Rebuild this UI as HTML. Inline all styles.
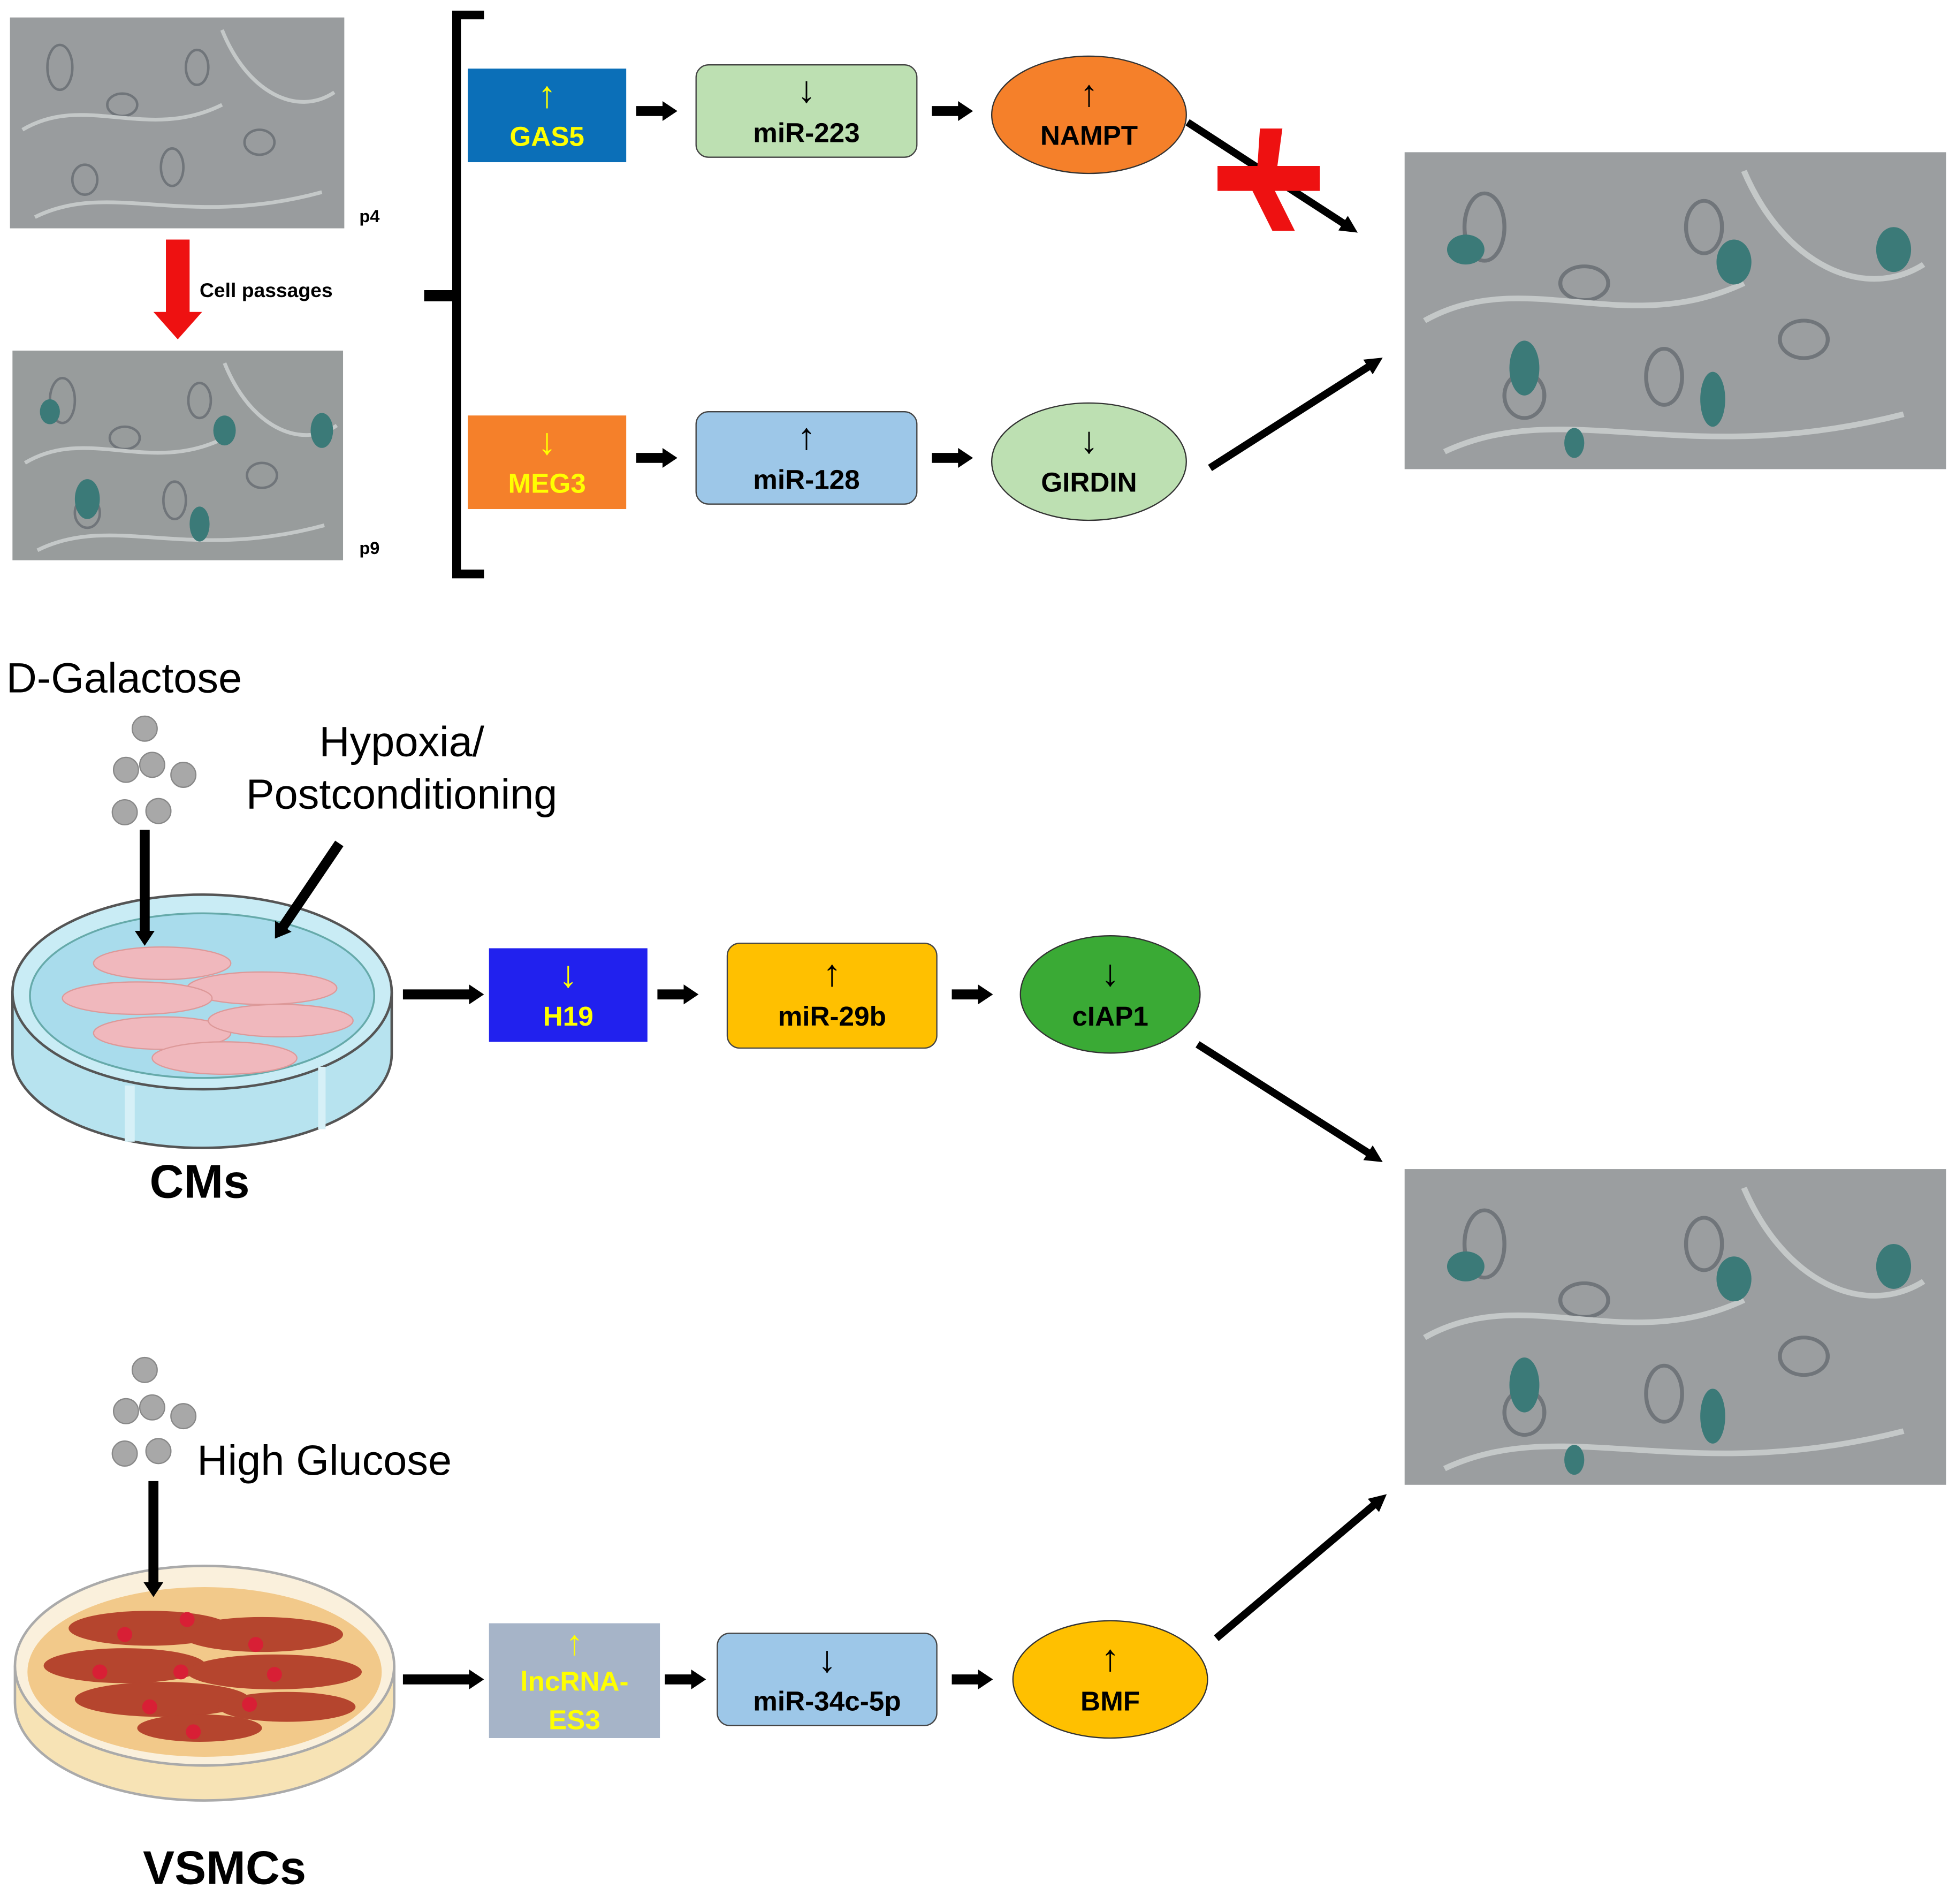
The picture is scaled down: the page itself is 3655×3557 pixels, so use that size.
<!DOCTYPE html>
<html><head><meta charset="utf-8">
<style>
html,body{margin:0;padding:0;background:#fff;}
svg{display:block;}
text{font-family:"Liberation Sans",Arial,sans-serif;}
</style></head>
<body>
<svg width="3655" height="3557" viewBox="0 0 1568 1526" preserveAspectRatio="none" xmlns="http://www.w3.org/2000/svg">
<defs>
<marker id="ah" markerWidth="12" markerHeight="16" refX="2" refY="8" orient="auto" markerUnits="userSpaceOnUse">
<path d="M0,0 L12,8 L0,16 z" fill="#000"/>
</marker>
<marker id="ad" markerWidth="14" markerHeight="14" refX="4" refY="7" orient="auto" markerUnits="userSpaceOnUse">
<path d="M0,0 L14,7 L0,14 z" fill="#000"/>
</marker>
<g id="cells">
<ellipse cx="40" cy="40" rx="10" ry="18" fill="none" stroke="#70757a" stroke-width="2"/>
<ellipse cx="90" cy="70" rx="12" ry="9" fill="none" stroke="#70757a" stroke-width="2"/>
<ellipse cx="150" cy="40" rx="9" ry="14" fill="none" stroke="#70757a" stroke-width="2"/>
<ellipse cx="200" cy="100" rx="12" ry="10" fill="none" stroke="#70757a" stroke-width="2"/>
<ellipse cx="60" cy="130" rx="10" ry="12" fill="none" stroke="#70757a" stroke-width="2"/>
<ellipse cx="130" cy="120" rx="9" ry="15" fill="none" stroke="#70757a" stroke-width="2"/>
<path d="M10,90 C60,60 110,100 170,70 M20,160 C80,130 140,170 250,140 M170,10 C190,60 230,80 260,60" stroke="#c4c8c8" stroke-width="3" fill="none"/>
</g>
</defs>

<!-- p4 -->
<rect x="8" y="14" width="268" height="169" fill="#999c9e"/>
<use href="#cells" x="8" y="14"/>
<text x="288" y="178" font-size="14" font-weight="bold">p4</text>
<rect x="133" y="192" width="19" height="60" fill="#ee1111"/>
<polygon points="123,250 162,250 142.5,272" fill="#ee1111"/>
<text x="160" y="238" font-size="16" font-weight="bold">Cell passages</text>
<!-- p9 -->
<rect x="10" y="281" width="265" height="168" fill="#989c9c"/>
<use href="#cells" x="10" y="281"/>
<ellipse cx="70" cy="400" rx="10" ry="16" fill="#3b7a78"/>
<ellipse cx="180" cy="345" rx="9" ry="12" fill="#3b7a78"/>
<ellipse cx="258" cy="345" rx="9" ry="14" fill="#3b7a78"/>
<ellipse cx="160" cy="420" rx="8" ry="14" fill="#3b7a78"/>
<ellipse cx="40" cy="330" rx="8" ry="10" fill="#3b7a78"/>
<text x="288" y="444" font-size="14" font-weight="bold">p9</text>

<path d="M388,12 L366,12 L366,460 L388,460" stroke="#000" stroke-width="7" fill="none"/>
<path d="M340,237 L366,237" stroke="#000" stroke-width="9"/>

<!-- top row -->
<rect x="375" y="55" width="127" height="75" fill="#0b6fb8"/>
<text x="438.5" y="86" font-size="30" fill="#ffff00" text-anchor="middle">↑</text>
<text x="438.5" y="117" font-size="22" font-weight="bold" fill="#ffff00" text-anchor="middle">GAS5</text>
<line x1="510" y1="89" x2="533" y2="89" stroke="#000" stroke-width="8" marker-end="url(#ah)"/>
<rect x="558" y="52" width="177" height="74" rx="10" fill="#bde0b2" stroke="#444" stroke-width="1"/>
<text x="646.5" y="82" font-size="30" text-anchor="middle">↓</text>
<text x="646.5" y="114" font-size="22" font-weight="bold" text-anchor="middle">miR-223</text>
<line x1="747" y1="89" x2="770" y2="89" stroke="#000" stroke-width="8" marker-end="url(#ah)"/>
<ellipse cx="873" cy="92" rx="78" ry="47" fill="#f5802a" stroke="#333" stroke-width="1"/>
<text x="873" y="85" font-size="30" text-anchor="middle">↑</text>
<text x="873" y="116" font-size="22" font-weight="bold" text-anchor="middle">NAMPT</text>
<line x1="952" y1="98" x2="1080" y2="181" stroke="#000" stroke-width="6" marker-end="url(#ad)"/>
<polygon points="1010,103 1028,103 1024,133 1058,133 1058,153 1022,153 1038,185 1020,185 1004,153 976,153 976,133 1008,133" fill="#ee1111"/>

<rect x="1126" y="122" width="434" height="254" fill="#9b9ea0"/>
<g transform="translate(1126 122) scale(1.6 1.5)"><use href="#cells"/></g>
<ellipse cx="1175" cy="200" rx="15" ry="12" fill="#3b7a78"/>
<ellipse cx="1390" cy="210" rx="14" ry="18" fill="#3b7a78"/>
<ellipse cx="1518" cy="200" rx="14" ry="18" fill="#3b7a78"/>
<ellipse cx="1222" cy="295" rx="12" ry="22" fill="#3b7a78"/>
<ellipse cx="1373" cy="320" rx="10" ry="22" fill="#3b7a78"/>
<ellipse cx="1262" cy="355" rx="8" ry="12" fill="#3b7a78"/>

<!-- second row -->
<rect x="375" y="333" width="127" height="75" fill="#f5802a"/>
<text x="438.5" y="364" font-size="30" fill="#ffff00" text-anchor="middle">↓</text>
<text x="438.5" y="395" font-size="22" font-weight="bold" fill="#ffff00" text-anchor="middle">MEG3</text>
<line x1="510" y1="367" x2="533" y2="367" stroke="#000" stroke-width="8" marker-end="url(#ah)"/>
<rect x="558" y="330" width="177" height="74" rx="10" fill="#9dc7e8" stroke="#444" stroke-width="1"/>
<text x="646.5" y="360" font-size="30" text-anchor="middle">↑</text>
<text x="646.5" y="392" font-size="22" font-weight="bold" text-anchor="middle">miR-128</text>
<line x1="747" y1="367" x2="770" y2="367" stroke="#000" stroke-width="8" marker-end="url(#ah)"/>
<ellipse cx="873" cy="370" rx="78" ry="47" fill="#bde0b2" stroke="#333" stroke-width="1"/>
<text x="873" y="363" font-size="30" text-anchor="middle">↓</text>
<text x="873" y="394" font-size="22" font-weight="bold" text-anchor="middle">GIRDIN</text>
<line x1="970" y1="375" x2="1100" y2="292" stroke="#000" stroke-width="6" marker-end="url(#ad)"/>

<text x="5" y="555" font-size="34">D-Galactose</text>
<g fill="#a8a8a8" stroke="#888" stroke-width="1">
<circle cx="116" cy="584" r="10"/><circle cx="101" cy="617" r="10"/><circle cx="122" cy="613" r="10"/><circle cx="147" cy="621" r="10"/><circle cx="100" cy="651" r="10"/><circle cx="127" cy="650" r="10"/>
</g>
<text x="322" y="606" font-size="34" text-anchor="middle">Hypoxia/</text>
<text x="322" y="648" font-size="34" text-anchor="middle">Postconditioning</text>

<!-- CMs dish -->
<path d="M10,795 L10,845 A152,75 0 0 0 314,845 L314,795" fill="#b7e3ef" stroke="#555" stroke-width="2"/>
<ellipse cx="162" cy="795" rx="152" ry="78" fill="#c9ecf5" stroke="#555" stroke-width="2"/>
<ellipse cx="162" cy="798" rx="138" ry="66" fill="#a9dcec" stroke="#6aa" stroke-width="1.5"/>
<g fill="#f0b8bd" stroke="#d99" stroke-width="1">
<ellipse cx="130" cy="772" rx="55" ry="13"/><ellipse cx="210" cy="792" rx="60" ry="13"/>
<ellipse cx="110" cy="800" rx="60" ry="13"/><ellipse cx="130" cy="828" rx="55" ry="13"/>
<ellipse cx="225" cy="818" rx="58" ry="13"/><ellipse cx="180" cy="848" rx="58" ry="13"/>
</g>
<g fill="#d6f0f7"><rect x="100" y="870" width="8" height="45"/><rect x="255" y="855" width="6" height="50"/></g>
<line x1="116" y1="665" x2="116" y2="748" stroke="#000" stroke-width="8" marker-end="url(#ah)"/>
<line x1="272" y1="676" x2="226" y2="744" stroke="#000" stroke-width="8" marker-end="url(#ah)"/>
<text x="160" y="960" font-size="38" font-weight="bold" text-anchor="middle">CMs</text>

<line x1="323" y1="797" x2="378" y2="797" stroke="#000" stroke-width="8" marker-end="url(#ah)"/>
<rect x="392" y="760" width="127" height="75" fill="#2121ee"/>
<text x="455.5" y="791" font-size="30" fill="#ffff00" text-anchor="middle">↓</text>
<text x="455.5" y="822" font-size="22" font-weight="bold" fill="#ffff00" text-anchor="middle">H19</text>
<line x1="527" y1="797" x2="550" y2="797" stroke="#000" stroke-width="8" marker-end="url(#ah)"/>
<rect x="583" y="756" width="168" height="84" rx="10" fill="#ffc000" stroke="#444" stroke-width="1"/>
<text x="667" y="790" font-size="30" text-anchor="middle">↑</text>
<text x="667" y="822" font-size="22" font-weight="bold" text-anchor="middle">miR-29b</text>
<line x1="763" y1="797" x2="786" y2="797" stroke="#000" stroke-width="8" marker-end="url(#ah)"/>
<ellipse cx="890" cy="797" rx="72" ry="47" fill="#3aaa35" stroke="#333" stroke-width="1"/>
<text x="890" y="790" font-size="30" text-anchor="middle">↓</text>
<text x="890" y="822" font-size="22" font-weight="bold" text-anchor="middle">cIAP1</text>
<line x1="960" y1="837" x2="1100" y2="926" stroke="#000" stroke-width="6" marker-end="url(#ad)"/>

<rect x="1126" y="937" width="434" height="253" fill="#9b9ea0"/>
<g transform="translate(1126 937) scale(1.6 1.5)"><use href="#cells"/></g>
<ellipse cx="1175" cy="1015" rx="15" ry="12" fill="#3b7a78"/>
<ellipse cx="1390" cy="1025" rx="14" ry="18" fill="#3b7a78"/>
<ellipse cx="1518" cy="1015" rx="14" ry="18" fill="#3b7a78"/>
<ellipse cx="1222" cy="1110" rx="12" ry="22" fill="#3b7a78"/>
<ellipse cx="1373" cy="1135" rx="10" ry="22" fill="#3b7a78"/>
<ellipse cx="1262" cy="1170" rx="8" ry="12" fill="#3b7a78"/>

<g fill="#a8a8a8" stroke="#888" stroke-width="1">
<circle cx="116" cy="1098" r="10"/><circle cx="101" cy="1131" r="10"/><circle cx="122" cy="1128" r="10"/><circle cx="147" cy="1135" r="10"/><circle cx="100" cy="1165" r="10"/><circle cx="127" cy="1163" r="10"/>
</g>
<text x="158" y="1182" font-size="34">High Glucose</text>

<!-- VSMC dish -->
<path d="M12,1335 L12,1365 A152,78 0 0 0 316,1365 L316,1335" fill="#f7e3b5" stroke="#aaa" stroke-width="2"/>
<ellipse cx="164" cy="1335" rx="152" ry="80" fill="#faf0dc" stroke="#aaa" stroke-width="2"/>
<ellipse cx="164" cy="1340" rx="142" ry="68" fill="#f2c98a"/>
<g fill="#b5452e">
<ellipse cx="120" cy="1305" rx="65" ry="14"/><ellipse cx="210" cy="1310" rx="65" ry="14"/>
<ellipse cx="100" cy="1335" rx="65" ry="14"/><ellipse cx="220" cy="1340" rx="70" ry="14"/>
<ellipse cx="130" cy="1362" rx="70" ry="14"/><ellipse cx="230" cy="1368" rx="55" ry="12"/>
<ellipse cx="160" cy="1385" rx="50" ry="11"/>
</g>
<g fill="#d81f35">
<circle cx="100" cy="1310" r="6"/><circle cx="150" cy="1298" r="6"/><circle cx="205" cy="1318" r="6"/><circle cx="80" cy="1340" r="6"/><circle cx="145" cy="1340" r="6"/><circle cx="220" cy="1342" r="6"/><circle cx="120" cy="1368" r="6"/><circle cx="200" cy="1366" r="6"/><circle cx="155" cy="1388" r="6"/>
</g>
<line x1="123" y1="1187" x2="123" y2="1270" stroke="#000" stroke-width="8" marker-end="url(#ah)"/>
<text x="180" y="1510" font-size="38" font-weight="bold" text-anchor="middle">VSMCs</text>

<line x1="323" y1="1346" x2="378" y2="1346" stroke="#000" stroke-width="8" marker-end="url(#ah)"/>
<rect x="392" y="1301" width="137" height="92" fill="#a6b4c8"/>
<text x="460.5" y="1326" font-size="28" fill="#ffff00" text-anchor="middle">↑</text>
<text x="460.5" y="1355" font-size="22" font-weight="bold" fill="#ffff00" text-anchor="middle">lncRNA-</text>
<text x="460.5" y="1386" font-size="22" font-weight="bold" fill="#ffff00" text-anchor="middle">ES3</text>
<line x1="533" y1="1346" x2="556" y2="1346" stroke="#000" stroke-width="8" marker-end="url(#ah)"/>
<rect x="575" y="1309" width="176" height="74" rx="10" fill="#9dc7e8" stroke="#444" stroke-width="1"/>
<text x="663" y="1340" font-size="30" text-anchor="middle">↓</text>
<text x="663" y="1371" font-size="22" font-weight="bold" text-anchor="middle">miR-34c-5p</text>
<line x1="763" y1="1346" x2="786" y2="1346" stroke="#000" stroke-width="8" marker-end="url(#ah)"/>
<ellipse cx="890" cy="1346" rx="78" ry="47" fill="#ffc000" stroke="#333" stroke-width="1"/>
<text x="890" y="1339" font-size="30" text-anchor="middle">↑</text>
<text x="890" y="1371" font-size="22" font-weight="bold" text-anchor="middle">BMF</text>
<line x1="975" y1="1313" x2="1104" y2="1204" stroke="#000" stroke-width="6" marker-end="url(#ad)"/>
</svg>
</body></html>
